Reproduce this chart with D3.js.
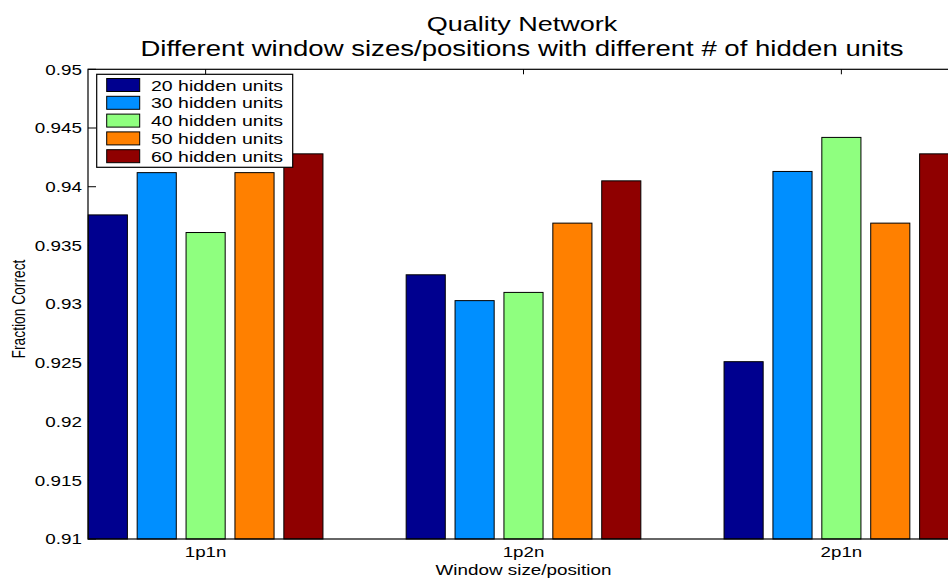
<!DOCTYPE html>
<html>
<head>
<meta charset="utf-8">
<script src="https://cdn.jsdelivr.net/npm/d3@7"></script>
<style>
  html, body { margin: 0; padding: 0; background: #fff; }
  svg { display: block; font-family: "Liberation Sans", Arial, Helvetica, sans-serif; }
</style>
</head>
<body>
<svg id="chart" width="948" height="578"></svg>
<script>
// Window configurations along the x axis
const categories = ["1p1n", "1p2n", "2p1n"];
// Hidden-unit series shown in the legend
const seriesNames = ["20 hidden units", "30 hidden units", "40 hidden units", "50 hidden units", "60 hidden units"];
const seriesColors = ["#00008f", "#008fff", "#8fff7f", "#ff8000", "#8f0000"];
// Fraction correct per series, one value per category
const units20 = [0.9376, 0.9325, 0.9251];
const units30 = [0.9412, 0.9303, 0.9413];
const units40 = [0.9361, 0.9310, 0.9442];
const units50 = [0.9412, 0.9369, 0.9369];
const units60 = [0.9428, 0.9405, 0.9428];
const seriesValues = [units20, units30, units40, units50, units60];
// Y tick values and their labels
const yTicks = [0.91, 0.915, 0.92, 0.925, 0.93, 0.935, 0.94, 0.945, 0.95];
const yTickLabels = ["0.91", "0.915", "0.92", "0.925", "0.93", "0.935", "0.94", "0.945", "0.95"];

const titleLines = ["Quality Network", "Different window sizes/positions with different # of hidden units"];
const xLabel = "Window size/position";
const yLabel = "Fraction Correct";

// Text in this figure is drawn slightly wide
const SX = 1.3;

const svg = d3.select("#chart");
const plotL = 88, plotR = 959, plotT = 69.3, plotB = 539;

// Group index scale (categories at 1, 2, 3)
const x = d3.scaleLinear().domain([0.63, 3.37]).range([plotL, plotR]);
const groupWidth = 0.769;
const xSub = d3.scaleBand().domain(d3.range(seriesNames.length))
  .range([-groupWidth / 2, groupWidth / 2]).paddingInner(0.2).paddingOuter(0.1);
const y = d3.scaleLinear().domain([0.91, 0.95]).range([plotB, plotT]);

function wideText(g, px, py, str, size, anchor, rotate) {
  return g.append("g")
    .attr("transform", `translate(${px},${py}) scale(${SX},1)` + (rotate ? ` rotate(${rotate})` : ""))
    .append("text")
    .attr("font-size", size)
    .attr("text-anchor", anchor || "start")
    .attr("fill", "#000")
    .text(str);
}

const plot = svg.append("g");

// Inward ticks on the left, top and bottom axes
plot.append("g").selectAll("line").data(yTicks).join("line")
  .attr("x1", plotL).attr("x2", plotL + 8)
  .attr("y1", d => y(d)).attr("y2", d => y(d))
  .attr("stroke", "#000").attr("stroke-width", 1);
plot.append("g").selectAll("line").data(categories).join("line")
  .attr("x1", (d, i) => x(i + 1)).attr("x2", (d, i) => x(i + 1))
  .attr("y1", plotT).attr("y2", plotT + 5)
  .attr("stroke", "#000").attr("stroke-width", 1);
plot.append("g").selectAll("line").data(categories).join("line")
  .attr("x1", (d, i) => x(i + 1)).attr("x2", (d, i) => x(i + 1))
  .attr("y1", plotB).attr("y2", plotB - 5)
  .attr("stroke", "#000").attr("stroke-width", 1);

// Bars
const bars = [];
seriesValues.forEach((vals, s) => {
  vals.forEach((v, c) => bars.push({ s, c, v }));
});
plot.append("g").selectAll("rect").data(bars).join("rect")
  .attr("x", d => x(d.c + 1 + xSub(d.s)))
  .attr("width", d => x(d.c + 1 + xSub(d.s) + xSub.bandwidth()) - x(d.c + 1 + xSub(d.s)))
  .attr("y", d => y(d.v))
  .attr("height", d => y(0.91) - y(d.v))
  .attr("fill", d => seriesColors[d.s])
  .attr("stroke", "#000").attr("stroke-width", 1);

// Axes box
plot.append("rect")
  .attr("x", plotL).attr("y", plotT)
  .attr("width", plotR - plotL).attr("height", plotB - plotT)
  .attr("fill", "none").attr("stroke", "#000").attr("stroke-width", 1.2);

// Y tick labels
yTicks.forEach((t, i) => {
  wideText(svg, 82, y(t), yTickLabels[i], 14.5, "end").attr("dy", "0.36em");
});

// Category labels
categories.forEach((c, i) => {
  wideText(svg, x(i + 1), 557, c, 14.4, "middle");
});

// Axis labels
wideText(svg, (plotL + plotR) / 2, 575, xLabel, 14.5, "middle");
wideText(svg, 25, 309, yLabel, 13.8, "middle", -90);

// Title
wideText(svg, 522, 31, titleLines[0], 20.8, "middle");
wideText(svg, 522, 56, titleLines[1], 21.2, "middle");

// Legend
const lg = svg.append("g");
lg.append("rect").attr("x", 96.7).attr("y", 74.3).attr("width", 196).attr("height", 93)
  .attr("fill", "#fff").attr("stroke", "#000").attr("stroke-width", 1.2);
seriesNames.forEach((name, i) => {
  const cy = 85 + i * 17.8;
  lg.append("rect").attr("x", 106.7).attr("y", cy - 6.5).attr("width", 33).attr("height", 13)
    .attr("fill", seriesColors[i]).attr("stroke", "#000").attr("stroke-width", 1);
  wideText(lg, 151, cy + 5.5, name, 15, "start");
});
</script>
</body>
</html>
